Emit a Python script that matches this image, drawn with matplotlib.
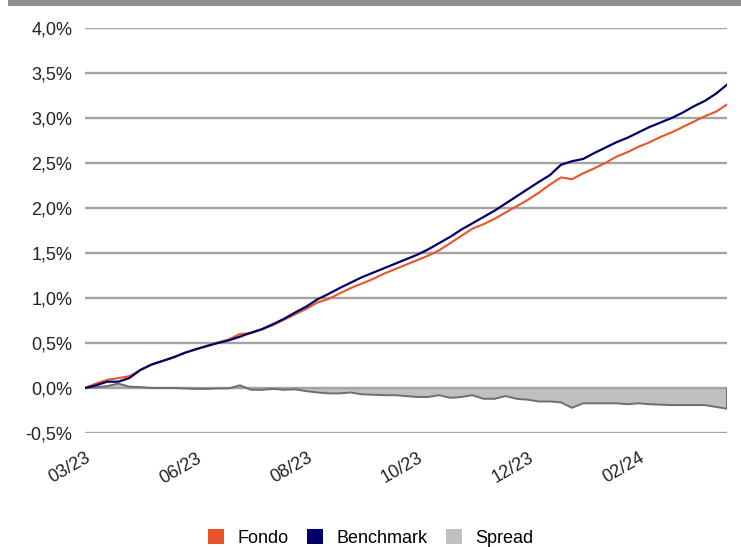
import matplotlib
matplotlib.use('Agg')
import matplotlib.pyplot as plt
from matplotlib.patches import Patch, Rectangle
from matplotlib.ticker import FuncFormatter

plt.rcParams['font.family'] = ['Liberation Sans', 'DejaVu Sans']

# values (%), one sample roughly every week
benchmark = [0.00, 0.03, 0.07, 0.07, 0.11, 0.20, 0.26, 0.30, 0.34, 0.39,
             0.43, 0.465, 0.50, 0.53, 0.57, 0.615, 0.655, 0.71, 0.77, 0.84,
             0.905, 0.985, 1.045, 1.11, 1.17, 1.23, 1.28, 1.33, 1.38, 1.43,
             1.48, 1.54, 1.61, 1.68, 1.76, 1.83, 1.90, 1.97, 2.05, 2.13,
             2.21, 2.29, 2.365, 2.48, 2.52, 2.545, 2.61, 2.67, 2.73, 2.78,
             2.84, 2.90, 2.95, 3.00, 3.06, 3.13, 3.19, 3.27, 3.37]
fondo = [0.00, 0.05, 0.09, 0.11, 0.13, 0.20, 0.26, 0.30, 0.345, 0.39,
         0.43, 0.47, 0.505, 0.54, 0.60, 0.61, 0.65, 0.70, 0.76, 0.82,
         0.88, 0.95, 0.99, 1.05, 1.11, 1.16, 1.21, 1.27, 1.32, 1.37,
         1.42, 1.47, 1.53, 1.61, 1.69, 1.77, 1.82, 1.88, 1.95, 2.02,
         2.09, 2.17, 2.26, 2.34, 2.32, 2.385, 2.44, 2.50, 2.57, 2.62,
         2.68, 2.73, 2.79, 2.84, 2.90, 2.96, 3.02, 3.07, 3.15]
spread = [0.00, 0.01, 0.02, 0.05, 0.015, 0.01, 0.00, 0.00, 0.00, -0.005,
          -0.01, -0.01, -0.005, -0.005, 0.03, -0.02, -0.02, -0.01, -0.02, -0.015,
          -0.035, -0.05, -0.06, -0.06, -0.05, -0.07, -0.075, -0.08, -0.08, -0.09,
          -0.10, -0.10, -0.08, -0.11, -0.10, -0.08, -0.12, -0.12, -0.09, -0.12,
          -0.13, -0.15, -0.15, -0.16, -0.22, -0.17, -0.17, -0.17, -0.17, -0.18,
          -0.17, -0.18, -0.185, -0.19, -0.19, -0.19, -0.19, -0.21, -0.23]
tick_labels = ['03/23', '06/23', '08/23', '10/23', '12/23', '02/24']
tick_step = 10

x = list(range(len(benchmark)))

fig = plt.figure(figsize=(7.41, 5.47), dpi=100)
ax = fig.add_axes([85/741, 1-433/547, 642/741, 405/547])

# grey band at the very top
fig.patches.append(Rectangle((8/741, 1-6/547), 1, 6/547, transform=fig.transFigure,
                             facecolor='#8f8f8f', edgecolor='none'))

ax.fill_between(x, spread, 0, facecolor='#c0c0c0', edgecolor='none', zorder=1)
ax.plot(x, spread, color='#6e6e6e', lw=1.4, zorder=2)
ax.vlines(x[-1], spread[-1], 0, color='#6e6e6e', lw=1.4, zorder=2)
ax.plot(x, fondo, color='#e8542c', lw=1.5, zorder=3)
ax.plot(x, benchmark, color='#000066', lw=1.6, zorder=4)

ax.set_xlim(0, x[-1])
ax.set_ylim(-0.5, 4.0)
ax.set_yticks([-0.5, 0, 0.5, 1.0, 1.5, 2.0, 2.5, 3.0, 3.5, 4.0])
ax.yaxis.set_major_formatter(FuncFormatter(lambda v, p: ('%.1f%%' % v).replace('.', ',')))
ax.set_xticks([i * tick_step for i in range(len(tick_labels))])
ax.set_xticklabels(tick_labels, rotation=30, ha='right', va='top', rotation_mode='anchor')

ax.set_axisbelow('line')
ax.yaxis.grid(True, color='#a3a3a3', lw=1.7)
for s in ax.spines.values():
    s.set_visible(False)
ax.tick_params(axis='y', length=0, pad=9, labelsize=13, labelcolor='#222222')
ax.tick_params(axis='x', length=0, pad=12, labelsize=13, labelcolor='#222222')

handles = [Patch(facecolor='#e8542c'), Patch(facecolor='#000066'), Patch(facecolor='#c0c0c0')]
fig.legend(handles, ['Fondo', 'Benchmark', 'Spread'], loc='center', bbox_to_anchor=(0.5, 1-538/547),
           ncol=3, frameon=False, fontsize=13, handlelength=0.9, handleheight=0.9,
           handletextpad=0.75, columnspacing=1.0)

fig.savefig('out.png', dpi=100)
